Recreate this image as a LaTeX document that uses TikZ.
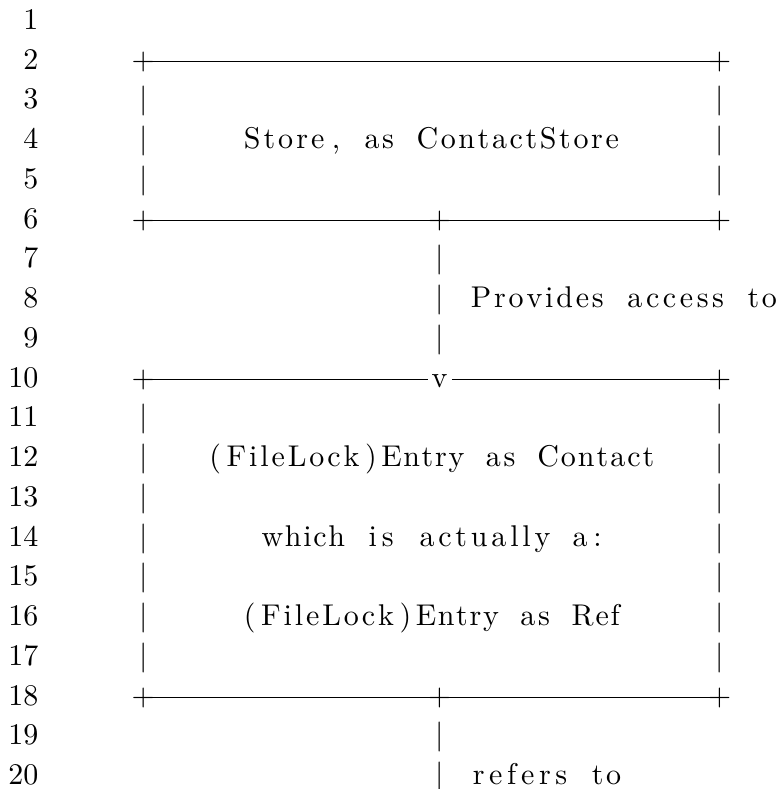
\documentclass[tikz,border=0pt]{standalone}
\usepackage{tikz}
\newlength\colw
\setlength\colw{5.767pt}
\makeatletter
\newcommand{\fixword}[1]{\@tempcnta=0
  \@tfor\fw@c:=#1\do{\advance\@tempcnta by 1}%
  \hbox to \@tempcnta\colw{\hss\@tfor\fw@c:=#1\do{\fw@c\hss}}}
\newcommand{\fixline}[1]{\@tfor\fl@w:=#1\do{\expandafter\fixword\expandafter{\fl@w}}}
\makeatother

\begin{document}
\begin{tikzpicture}[x=0.3333pt, y=-13.25pt,
    num/.style={anchor=base east, inner sep=0pt},
    txt/.style={anchor=base west, inner sep=0pt},
    chr/.style={anchor=base, inner sep=0pt},
    rule/.style={line width=0.4pt},
]
\useasboundingbox (0,0.263) rectangle (779,20.112);
\foreach \n in {1,...,20}
    \node[num] (num\n) at (39,\n) {\n};

% Store box
\node[chr] (stl) at (143.3,2) {+};
\node[chr] (str) at (719.6,2) {+};
\node[chr] (sbl) at (143.3,6) {+};
\node[chr] (sbm) at (439.7,6) {+};
\node[chr] (sbr) at (719.6,6) {+};
\foreach \n in {3,4,5} {
    \node[chr] (sl\n) at (143.3,\n) {$|$};
    \node[chr] (sr\n) at (719.6,\n) {$|$};
}
\node[txt] (store) at (240.3,4) {\fixline{{Store}{,}~{as}~{ContactStore}}};

% provides access to
\foreach \n in {7,8,9}
    \node[chr] (pa\n) at (439.7,\n) {$|$};
\node[txt] (provides) at (467.6,8) {\fixline{{Provides}~{access}~{to}}};

% Entry box
\node[chr] (etl) at (143.3,10) {+};
\node[chr, inner xsep=1.2pt] (arr) at (439.7,10) {v};
\node[chr] (etr) at (719.6,10) {+};
\node[chr] (ebl) at (143.3,18) {+};
\node[chr] (ebm) at (439.7,18) {+};
\node[chr] (ebr) at (719.6,18) {+};
\foreach \n in {11,...,17} {
    \node[chr] (el\n) at (143.3,\n) {$|$};
    \node[chr] (er\n) at (719.6,\n) {$|$};
}
\node[txt] (contact) at (206,12) {\fixline{{(}{FileLock}{)}{Entry}~{as}~{Contact}}};
\node[txt] (which) at (259.5,14) {\fixline{{which}~{is}~{actually}~{a}{:}}};
\node[txt] (ref) at (240.5,16) {\fixline{{(}{FileLock}{)}{Entry}~{as}~{Ref}}};

% refers to
\foreach \n in {19,20}
    \node[chr] (rt\n) at (439.7,\n) {$|$};
\node[txt] (refers) at (467.6,20) {\fixline{{refers}~{to}}};

\draw[rule] (stl.center) -- (str.center);
\draw[rule] (sbl.center) -- (sbr.center);
\draw[rule] (etl.center) -- (etl.center -| arr.west);
\draw[rule] (etl.center -| arr.east) -- (etr.center);
\draw[rule] (ebl.center) -- (ebr.center);
\end{tikzpicture}
\end{document}
